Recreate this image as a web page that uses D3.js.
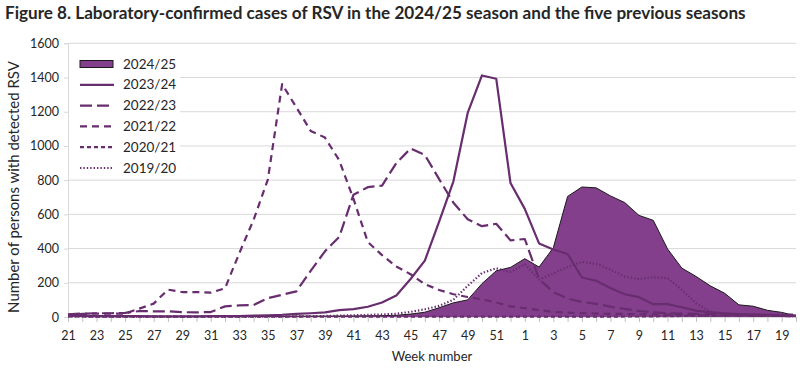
<!DOCTYPE html>
<html><head><meta charset="utf-8">
<script src="https://cdn.jsdelivr.net/npm/d3@7/dist/d3.min.js"></script>
<style>body{margin:0;background:#fff} text{font-family:"Lato","Noto Sans",sans-serif;fill:#262626}</style>
</head><body><svg id="c" width="800" height="371"></svg>
<script>
// ---- data ----
const weeks = [21,22,23,24,25,26,27,28,29,30,31,32,33,34,35,36,37,38,39,40,41,42,43,44,45,46,47,48,49,50,51,52,1,2,3,4,5,6,7,8,9,10,11,12,13,14,15,16,17,18,19,20];
const tickWeeks = [21,23,25,27,29,31,33,35,37,39,41,43,45,47,49,51,1,3,5,7,9,11,13,15,17,19];
const yTicks = [0,200,400,600,800,1000,1200,1400,1600];
const seasonNames = ["2024/25","2023/24","2022/23","2021/22","2020/21","2019/20"];
const s2425 = [15,12,8,6,5,4,4,3,3,3, 3,3,3,3,4,4,5,5,5,6, 6,7,8,10,17,28,54,83,100,195, 270,290, 341,292,405,705,760,755,708,669,594,565, 398,286,237,182,139,71,63,39,27,7];
const s2324 = [8,6,5,5,5,5,4,4,4,4, 5,5,5,8,10,13,18,22,27,40, 46,60,85,126,222,330,558,793,1193,1412, 1393,783, 632,430,395,368,231,212,169,133,116,75, 75,57,37,27,22,17,15,12,10,8];
const s2223 = [15,20,22,22,24,35,33,33,28,27, 29,62,68,70,110,130,150,270,384,468, 715,759,768,900,985,947,806,668,571,531, 545,448, 456,222,145,108,88,77,61,47,35,27, 22,20,18,16,14,12,10,8,7,6];
const s2122 = [14,18,20,20,20,49,78,160,146,146, 142,168,373,568,803,1361,1225,1088,1049,916, 690,439,362,295,250,192,158,133,117,103, 85,62, 52,40,30,25,22,20,18,18,16,15, 14,12,10,10,8,8,7,6,6,5];
const s2021 = [3,3,2,2,2,2,2,2,2,2, 2,2,2,2,2,2,2,2,2,2, 2,2,2,2,2,2,2,2,2,2, 2,2, 2,2,2,2,2,2,2,3,3,4, 5,6,7,8,9,10,11,12,13,14];
const s1920 = [3,3,2,2,2,2,2,2,2,2, 2,2,2,2,3,3,4,5,6,8, 10,12,15,19,30,45,65,101,182,257, 285,263, 308,219,255,292,322,311,277,237,221,233, 227,159,80,31,18,12,10,8,6,5];

// ---- layout / style ----
const svg = d3.select("#c");
const x0 = 68, x1 = 796, yB = 317, yT = 43.3;
const keys = weeks.map((w,i)=>i);
const x = d3.scalePoint().domain(keys).range([x0,x1]);
const y = d3.scaleLinear().domain([0,1600]).range([yB,yT]);
const lineCol = "#682d6f", areaCol = "#833f8c", gridCol = "#d9d9d9";

// gridlines
svg.append("g").selectAll("line").data(yTicks.filter(d=>d>0)).join("line")
  .attr("x1",x0).attr("x2",x1).attr("y1",d=>y(d)).attr("y2",d=>y(d))
  .attr("stroke",gridCol).attr("stroke-width",1);

// y axis
const ya = svg.append("g").attr("transform",`translate(${x0},0)`)
  .call(d3.axisLeft(y).tickValues(yTicks).tickFormat(d3.format("d")).tickSize(4).tickPadding(5));
ya.select(".domain").attr("stroke",gridCol);
ya.selectAll(".tick line").attr("stroke",gridCol);
ya.selectAll("text").style("font-size","12.5px").attr("fill","#262626");

// x axis
const xa = svg.append("g").attr("transform",`translate(0,${yB})`)
  .call(d3.axisBottom(x).tickSize(5).tickPadding(9)
    .tickFormat(i=> tickWeeks.includes(weeks[i]) ? weeks[i] : ""));
xa.select(".domain").attr("stroke",gridCol).attr("d",`M${x0},0.5H${x1}`);
xa.selectAll(".tick line").attr("stroke","#bfbfbf");
xa.selectAll("text").style("font-size","12.5px").attr("fill","#262626");

// area 2024/25
const area = d3.area().x((d,i)=>x(i)).y0(yB).y1(d=>y(d));
svg.append("path").datum(s2425).attr("d",area).attr("fill",areaCol);
svg.append("path").datum(s2425).attr("d",d3.line().x((d,i)=>x(i)).y(d=>y(d)))
  .attr("fill","none").attr("stroke","#1a1a1a").attr("stroke-width",1);

// lines
const lineSeries = [
  {data:s2324, dash:null},
  {data:s2223, dash:"12,5"},
  {data:s2122, dash:"7,5"},
  {data:s2021, dash:"4,3"},
  {data:s1920, dash:"1.4,2"}
];
const line = d3.line().x((d,i)=>x(i)).y(d=>y(d));
lineSeries.forEach(s=>{
  svg.append("path").datum(s.data).attr("d",line).attr("fill","none")
    .attr("stroke",lineCol).attr("stroke-width",2.2)
    .attr("stroke-dasharray",s.dash).attr("stroke-linejoin","round");
});

// legend
svg.append("rect").attr("x",x0+1).attr("y",48).attr("width",111).attr("height",129).attr("fill","#fff");
const lg = svg.append("g");
seasonNames.forEach((nm,k)=>{
  const cy = 64 + k*20.8;
  if(k===0){
    lg.append("rect").attr("x",80).attr("y",cy-3.5).attr("width",33).attr("height",7)
      .attr("fill",areaCol).attr("stroke","#1a1a1a").attr("stroke-width",1);
  } else {
    lg.append("line").attr("x1",80).attr("x2",114).attr("y1",cy).attr("y2",cy)
      .attr("stroke",lineCol).attr("stroke-width",2.2)
      .attr("stroke-dasharray",lineSeries[k-1].dash);
  }
  lg.append("text").attr("x",123).attr("y",cy+4.5).style("font-size","13.5px").text(nm);
});

// title
const title = svg.append("text").attr("x",5).attr("y",19).style("font-size","16px")
  .style("font-weight","bold").text("Figure 8. Laboratory-confirmed cases of RSV in the 2024/25 season and the five previous seasons");
const tl = title.node().getComputedTextLength();
title.style("font-size",(16*741/tl)+"px");

// axis titles
const yl = svg.append("text").attr("transform","translate(19,187) rotate(-90)")
  .attr("text-anchor","middle").style("font-size","13px").text("Number of persons with detected RSV");
const yll = yl.node().getComputedTextLength();
yl.style("font-size",(13*252/yll)+"px");
svg.append("text").attr("x",432).attr("y",361).attr("text-anchor","middle")
  .style("font-size","13px").text("Week number");
</script></body></html>
